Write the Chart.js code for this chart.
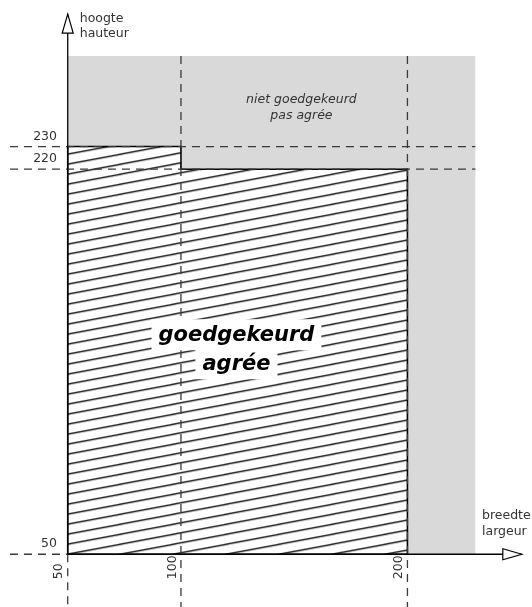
<!DOCTYPE html>
<html>
<head>
<meta charset="utf-8">
<script src="https://cdn.jsdelivr.net/npm/chart.js@4.4.0/dist/chart.umd.min.js"></script>
<style>
  html, body { margin: 0; padding: 0; background: #fff; }
  #wrap { width: 532px; height: 607px; position: relative; }
</style>
</head>
<body>
<div id="wrap"><canvas id="chart"></canvas></div>
<script>
// maximum sizes (cm): breedte / largeur on x, hoogte / hauteur on y
const xTicks = [50, 100, 200];
const yTicks = [50, 220, 230];
const greyZone = [[50, 50], [50, 270], [230, 270], [230, 50]];
const okZone = [[50, 50], [50, 230], [100, 230], [100, 220], [200, 220], [200, 50], [50, 50]];
const dashH = [230, 220];          // horizontal guides
const dashV = [100, 200];          // vertical guides
const axisEnd = [250.5, 288.5];    // arrow tips (x, y)
const xTitle = ['breedte', 'largeur'];
const yTitle = ['hoogte', 'hauteur'];
const okLabel = ['goedgekeurd', 'agrée'];
const badLabel = ['niet goedgekeurd', 'pas agrée'];

const FONT = '"DejaVu Sans", sans-serif';
const pt = a => ({x: a[0], y: a[1]});

// hatch tile: thin black lines rising to the right
function makeHatch() {
  const w = 53, h = 10;
  const c = document.createElement('canvas');
  c.width = w; c.height = h;
  const g = c.getContext('2d');
  g.fillStyle = '#fff';
  g.fillRect(0, 0, w, h);
  g.strokeStyle = '#000';
  g.lineWidth = 1.25;
  for (let k = -1; k <= 1; k++) {
    g.beginPath();
    g.moveTo(-w, 2 * h + k * h);
    g.lineTo(2 * w, -h + k * h);
    g.stroke();
  }
  return g.createPattern(c, 'repeat');
}
const hatch = makeHatch();

const dashStyle = {borderColor: '#3a3a3a', borderWidth: 1.3, borderDash: [8, 6], fill: false};
const guides = [];
dashH.forEach(v => guides.push({data: [{x: 24.5, y: v}, {x: 230, y: v}], ...dashStyle, order: 3}));
dashV.forEach(v => guides.push({data: [{x: v, y: 270}, {x: v, y: 20}], ...dashStyle, order: 3}));
guides.push({data: [{x: 24.5, y: 50}, {x: 50, y: 50}], ...dashStyle, order: 3});
guides.push({data: [{x: 50, y: 50}, {x: 50, y: 20}], ...dashStyle, order: 3});

const datasets = [
  {data: greyZone.map(pt), backgroundColor: '#d9d9d9', borderWidth: 0, fill: 'shape', order: 5},
  {data: okZone.map(pt), backgroundColor: hatch, borderColor: '#000', borderWidth: 1.6, fill: 'shape', order: 4},
  ...guides,
  {data: [{x: 50, y: 50}, {x: axisEnd[0], y: 50}], borderColor: '#000', borderWidth: 1.7, fill: false, order: 2},
  {data: [{x: 50, y: 50}, {x: 50, y: axisEnd[1]}], borderColor: '#000', borderWidth: 1.3, fill: false, order: 2}
];

const decor = {
  id: 'decor',
  beforeDatasetsDraw(chart) {
    const {x, y} = chart.scales;
    hatch.setTransform(new DOMMatrix().translate(x.getPixelForValue(50), y.getPixelForValue(50)));
  },
  afterDatasetsDraw(chart) {
    const ctx = chart.ctx;
    const {x, y} = chart.scales;
    ctx.save();
    // arrows
    ctx.fillStyle = '#fff';
    ctx.strokeStyle = '#000';
    ctx.lineWidth = 1.2;
    const ax = x.getPixelForValue(axisEnd[0]), ay = y.getPixelForValue(50);
    ctx.beginPath();
    ctx.moveTo(ax, ay); ctx.lineTo(ax - 19, ay - 5.5); ctx.lineTo(ax - 19, ay + 5.5); ctx.closePath();
    ctx.fill(); ctx.stroke();
    const bx = x.getPixelForValue(50), by = y.getPixelForValue(axisEnd[1]);
    ctx.beginPath();
    ctx.moveTo(bx, by); ctx.lineTo(bx - 5.5, by + 19); ctx.lineTo(bx + 5.5, by + 19); ctx.closePath();
    ctx.fill(); ctx.stroke();

    // tick labels
    ctx.fillStyle = '#333';
    ctx.font = '12.5px ' + FONT;
    ctx.textAlign = 'right';
    ctx.textBaseline = 'middle';
    yTicks.forEach(v => ctx.fillText(String(v), 57, y.getPixelForValue(v) - 10));
    xTicks.forEach(v => {
      ctx.save();
      ctx.translate(x.getPixelForValue(v) - 8.5, y.getPixelForValue(50) + 25);
      ctx.rotate(-Math.PI / 2);
      ctx.textAlign = 'left';
      ctx.fillText(String(v), 0, 0);
      ctx.restore();
    });

    // axis titles
    ctx.textAlign = 'left';
    ctx.fillText(yTitle[0], bx + 12, 19);
    ctx.fillText(yTitle[1], bx + 12, 34);
    ctx.fillText(xTitle[0], 482, ay - 38);
    ctx.fillText(xTitle[1], 482, ay - 22);

    // not approved zone
    ctx.textAlign = 'center';
    ctx.font = 'italic 12.5px ' + FONT;
    const nx = x.getPixelForValue(153.2), ny = y.getPixelForValue(247);
    ctx.fillText(badLabel[0], nx, ny - 8);
    ctx.fillText(badLabel[1], nx, ny + 8);

    // approved zone
    ctx.font = 'italic bold 21px ' + FONT;
    const gx = x.getPixelForValue(124.5), gy = y.getPixelForValue(140.5);
    const rows = [gy - 14, gy + 15];
    ctx.fillStyle = '#fff';
    okLabel.forEach((t, i) => {
      const w = ctx.measureText(t).width;
      ctx.fillRect(gx - w / 2 - 7, rows[i] - 16, w + 14, 31);
    });
    ctx.fillStyle = '#000';
    okLabel.forEach((t, i) => ctx.fillText(t, gx, rows[i]));
    ctx.restore();
  }
};

new Chart(document.getElementById('chart'), {
  type: 'scatter',
  data: {datasets},
  options: {
    responsive: true,
    maintainAspectRatio: false,
    animation: false,
    events: [],
    showLine: true,
    layout: {padding: 0},
    elements: {point: {radius: 0}, line: {tension: 0}},
    scales: {
      x: {type: 'linear', min: 20.1, max: 255, display: false},
      y: {type: 'linear', min: 26.7, max: 294.7, display: false}
    },
    plugins: {legend: {display: false}, tooltip: {enabled: false}, title: {display: false}}
  },
  plugins: [decor]
});
</script>
</body>
</html>
